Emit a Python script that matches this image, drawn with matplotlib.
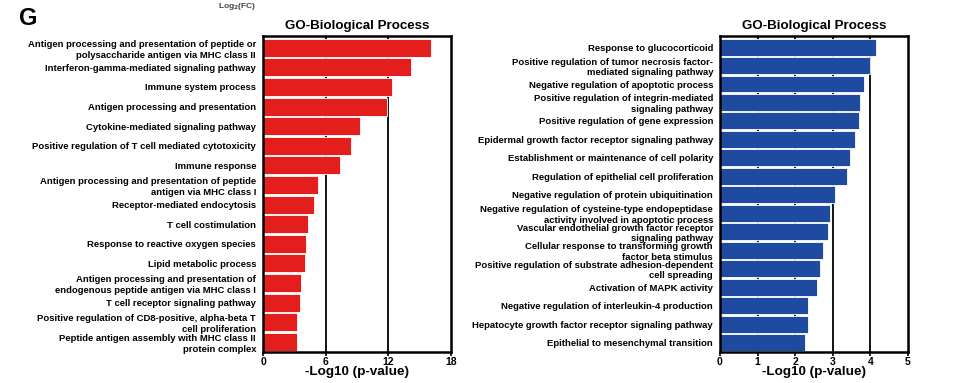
import matplotlib
matplotlib.use("Agg")
import matplotlib.pyplot as plt

plt.rcParams['font.family'] = ['Liberation Sans', 'DejaVu Sans']
plt.rcParams['font.weight'] = 'bold'

# left panel (red)
left_terms = [
    "Antigen processing and presentation of peptide or\npolysaccharide antigen via MHC class II",
    "Interferon-gamma-mediated signaling pathway",
    "Immune system process",
    "Antigen processing and presentation",
    "Cytokine-mediated signaling pathway",
    "Positive regulation of T cell mediated cytotoxicity",
    "Immune response",
    "Antigen processing and presentation of peptide\nantigen via MHC class I",
    "Receptor-mediated endocytosis",
    "T cell costimulation",
    "Response to reactive oxygen species",
    "Lipid metabolic process",
    "Antigen processing and presentation of\nendogenous peptide antigen via MHC class I",
    "T cell receptor signaling pathway",
    "Positive regulation of CD8-positive, alpha-beta T\ncell proliferation",
    "Peptide antigen assembly with MHC class II\nprotein complex",
]
left_vals = [16.07, 14.16, 12.35, 11.87, 9.24, 8.38, 7.33, 5.27,
             4.89, 4.29, 4.13, 4.0, 3.68, 3.56, 3.21, 3.21]
left_ticks = [0, 6, 12, 18]

# right panel (blue)
right_terms = [
    "Response to glucocorticoid",
    "Positive regulation of tumor necrosis factor-\nmediated signaling pathway",
    "Negative regulation of apoptotic process",
    "Positive regulation of integrin-mediated\nsignaling pathway",
    "Positive regulation of gene expression",
    "Epidermal growth factor receptor signaling pathway",
    "Establishment or maintenance of cell polarity",
    "Regulation of epithelial cell proliferation",
    "Negative regulation of protein ubiquitination",
    "Negative regulation of cysteine-type endopeptidase\nactivity involved in apoptotic process",
    "Vascular endothelial growth factor receptor\nsignaling pathway",
    "Cellular response to transforming growth\nfactor beta stimulus",
    "Positive regulation of substrate adhesion-dependent\ncell spreading",
    "Activation of MAPK activity",
    "Negative regulation of interleukin-4 production",
    "Hepatocyte growth factor receptor signaling pathway",
    "Epithelial to mesenchymal transition",
]
right_vals = [4.14, 4.0, 3.83, 3.72, 3.69, 3.58, 3.45, 3.39, 3.07,
              2.92, 2.87, 2.75, 2.66, 2.59, 2.34, 2.34, 2.27]
right_ticks = [0, 1, 2, 3, 4, 5]

fig = plt.figure(figsize=(9.71, 3.83), dpi=100)

def panel(rect, terms, vals, ticks, color):
    ax = fig.add_axes(rect)
    y = list(range(len(terms)))
    ax.barh(y, vals, height=0.92, color=color, edgecolor='white', linewidth=0.6, zorder=2)
    ax.set_xlim(ticks[0], ticks[-1])
    ax.set_ylim(len(terms) - 0.5, -0.6)
    ax.set_xticks(ticks)
    ax.set_xticklabels([str(t) for t in ticks], fontsize=7.5, fontweight='bold')
    ax.set_yticks(y)
    ax.set_yticklabels(terms, fontsize=6.8, fontweight='bold', linespacing=1.25)
    ax.tick_params(axis='y', length=0, pad=5)
    ax.tick_params(axis='x', length=3, width=1.2, pad=1)
    for t in ticks[1:-1]:
        ax.axvline(t, color='black', lw=1.3, zorder=1)
    for s in ax.spines.values():
        s.set_linewidth(1.8)
    ax.set_title("GO-Biological Process", fontsize=9.6, fontweight='bold', pad=5)
    ax.set_xlabel("-Log10 (p-value)", fontsize=9.7, fontweight='bold', labelpad=-1)
    return ax

panel([0.2709, 0.0817, 0.1936, 0.8243], left_terms, left_vals, left_ticks, '#E31E1C')
panel([0.7415, 0.0817, 0.1936, 0.8243], right_terms, right_vals, right_ticks, '#1E4A9F')

fig.text(0.02, 0.952, "G", fontsize=17, fontweight='bold', va='center')
fig.text(0.244, 0.998, "Log$_2$(FC)", fontsize=6, ha='center', va='top', color='#444444')

fig.savefig("out.png", dpi=100)
